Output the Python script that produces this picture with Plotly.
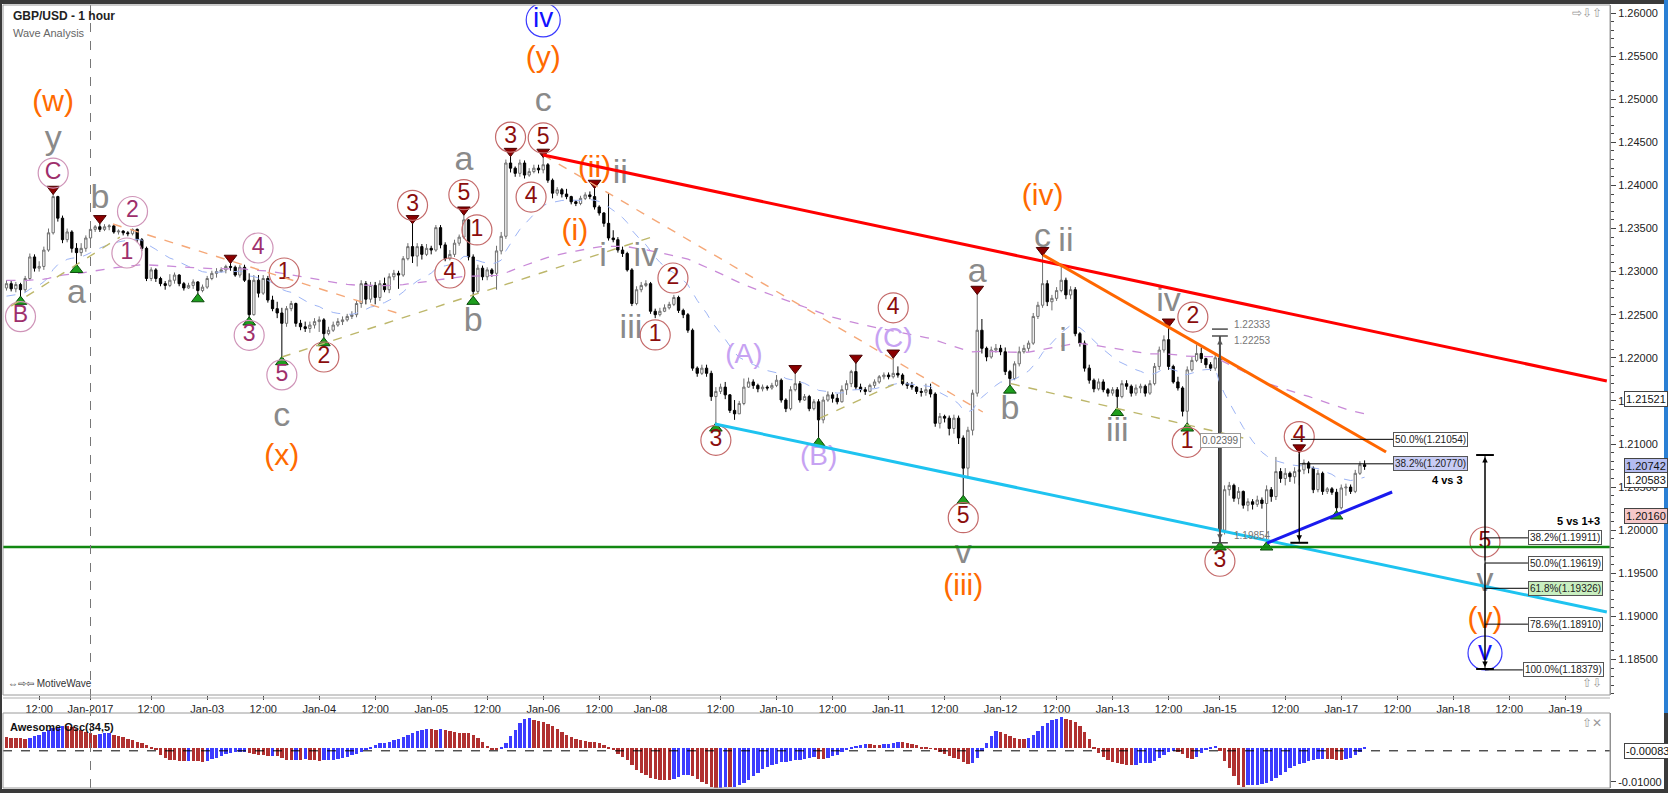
import plotly.graph_objects as go

# ---------------- DATA ----------------
FIRST_OPEN = 1.2281
CLOSE = [
 1.2286, 1.2280, 1.2285, 1.2279, 1.2292, 1.2317, 1.2304, 1.2306, 1.2325, 1.2345,
 1.2387, 1.2362, 1.2337, 1.2346, 1.2327, 1.2322, 1.2327, 1.2339, 1.2349, 1.2352,
 1.2349, 1.2352, 1.2353, 1.2346, 1.2347, 1.2345, 1.2344, 1.2349, 1.2337, 1.2327,
 1.2292, 1.2302, 1.2292, 1.2286, 1.2284, 1.2290, 1.2296, 1.2286, 1.2281, 1.2284,
 1.2288, 1.2278, 1.2282, 1.2292, 1.2298, 1.2300, 1.2302, 1.2306, 1.2305, 1.2296,
 1.2305, 1.2290, 1.2250, 1.2290, 1.2275, 1.2292, 1.2267, 1.2257, 1.2252, 1.2240,
 1.2257, 1.2263, 1.2240, 1.2236, 1.2234, 1.2238, 1.2242, 1.2244, 1.2228, 1.2232,
 1.2238, 1.2242, 1.2244, 1.2248, 1.2250, 1.2263, 1.2286, 1.2268, 1.2284, 1.2270,
 1.2286, 1.2279, 1.2294, 1.2298, 1.2296, 1.2315, 1.2329, 1.2318, 1.2329, 1.2320,
 1.2327, 1.2325, 1.2351, 1.2331, 1.2315, 1.2320, 1.2333, 1.2340, 1.2360, 1.2317,
 1.2277, 1.2304, 1.2294, 1.2302, 1.2298, 1.2324, 1.2341, 1.2426, 1.2420, 1.2414,
 1.2426, 1.2412, 1.2416, 1.2420, 1.2418, 1.2424, 1.2406, 1.2391, 1.2395, 1.2390,
 1.2387, 1.2381, 1.2379, 1.2385, 1.2389, 1.2387, 1.2375, 1.2368, 1.2356, 1.2339,
 1.2337, 1.2325, 1.2321, 1.2302, 1.2263, 1.2279, 1.2284, 1.2286, 1.2254, 1.2250,
 1.2254, 1.2258, 1.2262, 1.2270, 1.2255, 1.2250, 1.2232, 1.2188, 1.2182, 1.2188,
 1.2182, 1.2155, 1.2161, 1.2166, 1.2157, 1.2139, 1.2135, 1.2147, 1.2166, 1.2172,
 1.2168, 1.2164, 1.2166, 1.2165, 1.2168, 1.2174, 1.2151, 1.2141, 1.2163, 1.2170,
 1.2151, 1.2155, 1.2141, 1.2149, 1.2128, 1.2151, 1.2157, 1.2153, 1.2149, 1.2163,
 1.2170, 1.2184, 1.2166, 1.2163, 1.2161, 1.2168, 1.2172, 1.2178, 1.2180, 1.2178,
 1.2182, 1.2180, 1.2170, 1.2168, 1.2166, 1.2161, 1.2160, 1.2163, 1.2158, 1.2124,
 1.2132, 1.2130, 1.2118, 1.2130, 1.2107, 1.2072, 1.2116, 1.2159, 1.2232, 1.2211,
 1.2201, 1.2209, 1.2211, 1.2207, 1.2184, 1.2176, 1.2193, 1.2207, 1.2211, 1.2217,
 1.2248, 1.2261, 1.2286, 1.2265, 1.2269, 1.2278, 1.2290, 1.2273, 1.2279, 1.2228,
 1.2217, 1.2188, 1.2174, 1.2164, 1.2172, 1.2163, 1.2159, 1.2163, 1.2155, 1.2170,
 1.2167, 1.2159, 1.2165, 1.2167, 1.2159, 1.2170, 1.2190, 1.2209, 1.2221, 1.2190,
 1.2172, 1.2165, 1.2138, 1.2186, 1.2197, 1.2205, 1.2199, 1.2192, 1.2188, 1.2200,
 1.2000, 1.2047, 1.2052, 1.2037, 1.2045, 1.2029, 1.2033, 1.2030, 1.2035, 1.2031,
 1.2047, 1.2039, 1.2068, 1.2060, 1.2066, 1.2062, 1.2068, 1.2070, 1.2078, 1.2072,
 1.2047, 1.2066, 1.2045, 1.2048, 1.2044, 1.2026, 1.2049, 1.2050, 1.2045, 1.2066,
 1.2076, 1.2074]
HIGH = [
 1.2290, 1.2289, 1.2288, 1.2287, 1.2295, 1.2321, 1.2320, 1.2312, 1.2329, 1.2350,
 1.2390, 1.2388, 1.2365, 1.2350, 1.2348, 1.2333, 1.2333, 1.2342, 1.2352, 1.2354,
 1.2356, 1.2355, 1.2355, 1.2354, 1.2349, 1.2348, 1.2347, 1.2350, 1.2350, 1.2339,
 1.2329, 1.2305, 1.2304, 1.2294, 1.2289, 1.2297, 1.2299, 1.2297, 1.2288, 1.2287,
 1.2291, 1.2289, 1.2285, 1.2295, 1.2301, 1.2304, 1.2305, 1.2308, 1.2310, 1.2307,
 1.2308, 1.2308, 1.2298, 1.2296, 1.2296, 1.2296, 1.2295, 1.2272, 1.2265, 1.2258,
 1.2260, 1.2266, 1.2264, 1.2244, 1.2242, 1.2242, 1.2246, 1.2248, 1.2246, 1.2236,
 1.2242, 1.2246, 1.2248, 1.2251, 1.2254, 1.2266, 1.2290, 1.2289, 1.2288, 1.2288,
 1.2290, 1.2293, 1.2298, 1.2302, 1.2301, 1.2318, 1.2333, 1.2356, 1.2333, 1.2332,
 1.2332, 1.2330, 1.2354, 1.2354, 1.2334, 1.2325, 1.2337, 1.2343, 1.2366, 1.2361,
 1.2320, 1.2308, 1.2307, 1.2305, 1.2304, 1.2330, 1.2346, 1.2430, 1.2434, 1.2422,
 1.2430, 1.2429, 1.2420, 1.2424, 1.2424, 1.2433, 1.2426, 1.2408, 1.2398, 1.2397,
 1.2396, 1.2388, 1.2383, 1.2388, 1.2392, 1.2393, 1.2397, 1.2377, 1.2369, 1.2391,
 1.2348, 1.2340, 1.2329, 1.2323, 1.2304, 1.2283, 1.2288, 1.2290, 1.2288, 1.2257,
 1.2258, 1.2262, 1.2265, 1.2273, 1.2272, 1.2257, 1.2252, 1.2234, 1.2190, 1.2192,
 1.2192, 1.2185, 1.2166, 1.2170, 1.2172, 1.2158, 1.2151, 1.2150, 1.2176, 1.2177,
 1.2175, 1.2170, 1.2169, 1.2168, 1.2171, 1.2180, 1.2176, 1.2153, 1.2167, 1.2182,
 1.2173, 1.2158, 1.2157, 1.2152, 1.2152, 1.2155, 1.2161, 1.2160, 1.2158, 1.2168,
 1.2174, 1.2186, 1.2194, 1.2170, 1.2166, 1.2170, 1.2175, 1.2180, 1.2183, 1.2183,
 1.2200, 1.2190, 1.2182, 1.2172, 1.2172, 1.2167, 1.2165, 1.2170, 1.2170, 1.2160,
 1.2136, 1.2134, 1.2133, 1.2134, 1.2133, 1.2110, 1.2120, 1.2163, 1.2274, 1.2245,
 1.2213, 1.2213, 1.2216, 1.2215, 1.2212, 1.2186, 1.2196, 1.2213, 1.2215, 1.2220,
 1.2252, 1.2265, 1.2319, 1.2290, 1.2273, 1.2282, 1.2306, 1.2293, 1.2283, 1.2282,
 1.2230, 1.2220, 1.2192, 1.2176, 1.2176, 1.2175, 1.2165, 1.2166, 1.2166, 1.2174,
 1.2174, 1.2169, 1.2169, 1.2170, 1.2169, 1.2174, 1.2194, 1.2213, 1.2226, 1.2236,
 1.2192, 1.2178, 1.2167, 1.2190, 1.2201, 1.2215, 1.2212, 1.2200, 1.2195, 1.2205,
 1.2210, 1.2052, 1.2056, 1.2054, 1.2050, 1.2046, 1.2037, 1.2036, 1.2040, 1.2038,
 1.2052, 1.2050, 1.2085, 1.2072, 1.2072, 1.2068, 1.2073, 1.2090, 1.2082, 1.2080,
 1.2074, 1.2070, 1.2068, 1.2050, 1.2050, 1.2048, 1.2053, 1.2054, 1.2053, 1.2070,
 1.2080, 1.2081]
LOW = [
 1.2278, 1.2277, 1.2276, 1.2271, 1.2276, 1.2290, 1.2300, 1.2300, 1.2302, 1.2323,
 1.2343, 1.2358, 1.2333, 1.2334, 1.2322, 1.2308, 1.2318, 1.2323, 1.2337, 1.2346,
 1.2346, 1.2347, 1.2348, 1.2344, 1.2343, 1.2342, 1.2341, 1.2342, 1.2334, 1.2324,
 1.2289, 1.2289, 1.2288, 1.2283, 1.2279, 1.2282, 1.2286, 1.2283, 1.2278, 1.2280,
 1.2280, 1.2274, 1.2276, 1.2280, 1.2290, 1.2293, 1.2299, 1.2298, 1.2301, 1.2294,
 1.2293, 1.2288, 1.2247, 1.2249, 1.2270, 1.2273, 1.2264, 1.2254, 1.2246, 1.2201,
 1.2236, 1.2254, 1.2236, 1.2232, 1.2230, 1.2229, 1.2234, 1.2230, 1.2223, 1.2226,
 1.2230, 1.2236, 1.2238, 1.2242, 1.2245, 1.2247, 1.2258, 1.2262, 1.2264, 1.2262,
 1.2266, 1.2276, 1.2275, 1.2290, 1.2280, 1.2294, 1.2313, 1.2310, 1.2306, 1.2314,
 1.2318, 1.2320, 1.2323, 1.2327, 1.2312, 1.2313, 1.2317, 1.2330, 1.2338, 1.2313,
 1.2271, 1.2275, 1.2290, 1.2290, 1.2294, 1.2279, 1.2320, 1.2338, 1.2415, 1.2410,
 1.2410, 1.2408, 1.2410, 1.2414, 1.2414, 1.2414, 1.2403, 1.2385, 1.2388, 1.2386,
 1.2384, 1.2378, 1.2376, 1.2377, 1.2383, 1.2384, 1.2372, 1.2365, 1.2352, 1.2336,
 1.2334, 1.2322, 1.2317, 1.2300, 1.2260, 1.2261, 1.2276, 1.2282, 1.2251, 1.2246,
 1.2248, 1.2253, 1.2256, 1.2260, 1.2252, 1.2246, 1.2229, 1.2185, 1.2178, 1.2180,
 1.2178, 1.2150, 1.2124, 1.2158, 1.2152, 1.2136, 1.2128, 1.2135, 1.2145, 1.2165,
 1.2164, 1.2160, 1.2161, 1.2162, 1.2163, 1.2166, 1.2148, 1.2137, 1.2139, 1.2161,
 1.2148, 1.2150, 1.2138, 1.2139, 1.2107, 1.2124, 1.2149, 1.2148, 1.2146, 1.2148,
 1.2157, 1.2166, 1.2163, 1.2160, 1.2157, 1.2160, 1.2165, 1.2170, 1.2175, 1.2175,
 1.2176, 1.2177, 1.2168, 1.2164, 1.2163, 1.2158, 1.2155, 1.2156, 1.2154, 1.2120,
 1.2118, 1.2125, 1.2110, 1.2112, 1.2100, 1.2040, 1.2060, 1.2110, 1.2155, 1.2205,
 1.2196, 1.2199, 1.2206, 1.2203, 1.2180, 1.2168, 1.2174, 1.2190, 1.2205, 1.2207,
 1.2215, 1.2245, 1.2258, 1.2260, 1.2255, 1.2266, 1.2276, 1.2268, 1.2268, 1.2225,
 1.2213, 1.2184, 1.2170, 1.2160, 1.2162, 1.2160, 1.2155, 1.2156, 1.2142, 1.2153,
 1.2163, 1.2155, 1.2156, 1.2159, 1.2155, 1.2157, 1.2168, 1.2186, 1.2206, 1.2186,
 1.2170, 1.2162, 1.2132, 1.2124, 1.2184, 1.2195, 1.2194, 1.2188, 1.2185, 1.2185,
 1.1986, 1.1995, 1.2040, 1.2033, 1.2030, 1.2025, 1.2022, 1.2024, 1.2027, 1.2025,
 1.1986, 1.2033, 1.2035, 1.2055, 1.2052, 1.2056, 1.2054, 1.2052, 1.2065, 1.2066,
 1.2043, 1.2044, 1.2041, 1.2042, 1.2041, 1.2022, 1.2024, 1.2040, 1.2042, 1.2043,
 1.2064, 1.2070]
OPEN = [FIRST_OPEN] + CLOSE[:-1]
BAR = list(range(len(CLOSE)))

TICK_IDX = [7, 18, 31, 43, 55, 67, 79, 91, 103, 115, 127, 138, 153, 165, 177,
            189, 201, 213, 225, 237, 249, 260, 274, 286, 298, 310, 322, 334]
TICK_TEXT = ["12:00", "Jan-2017", "12:00", "Jan-03", "12:00", "Jan-04", "12:00",
             "Jan-05", "12:00", "Jan-06", "12:00", "Jan-08", "12:00", "Jan-10",
             "12:00", "Jan-11", "12:00", "Jan-12", "12:00", "Jan-13", "12:00",
             "Jan-15", "12:00", "Jan-17", "12:00", "Jan-18", "12:00", "Jan-19"]

# Awesome oscillator values before 34 bars of history exist
AO_EARLY = [0.0032, 0.0031, 0.0030, 0.0029, 0.0028, 0.0031, 0.0035, 0.0040, 0.0046,
            0.0052, 0.0058, 0.0063, 0.0066, 0.0066, 0.0062, 0.0057, 0.0052, 0.0047,
            0.0043, 0.0040, 0.0041, 0.0043, 0.0044, 0.0040, 0.0036, 0.0032, 0.0028,
            0.0024, 0.0019, 0.0014, 0.0008, 0.0002, -0.0006]
AO_LAST = -0.00083

BLUE_MA_SEED = 1.2270
PURPLE_MA_SEED = 1.2290

TAG_PRICES = [1.21521, 1.20742, 1.20583, 1.20160]

FIB_A_PCT = ["38.2%", "50.0%", "61.8%", "78.6%", "100.0%"]
FIB_A_PRICE = [1.19911, 1.19619, 1.19326, 1.18910, 1.18379]
FIB_A_RANGE = [1.20872, 1.18390]
FIB_B_PCT = ["50.0%", "38.2%"]
FIB_B_PRICE = [1.21054, 1.20770]
WAVE3_RANGE = [1.22253, 1.19854]
WAVE3_TOP2 = 1.22333

# trend lines: (bar index, price) end points
TL_RED = [(115.0, 1.24353), (342.9, 1.21731)]
TL_ORANGE = [(222.1, 1.23193), (295.6, 1.20907)]
TL_CYAN = [(151.8, 1.21232), (342.9, 1.19051)]
TL_BLUE = [(270.1, 1.19851), (296.9, 1.20443)]
H_GREEN = 1.19805
TL_OLIVE = [[(1.0, 1.2260), (24.3, 1.2340)],
            [(59.0, 1.22009), (138.3, 1.23401)],
            [(174.3, 1.2130), (192.1, 1.2174)],
            [(215.2, 1.2170), (265.0, 1.2107)]]
TL_PEACH = [[(22.8, 1.23552), (83.7, 1.22520)],
            [(115.0, 1.24353), (209.2, 1.21371)]]

TRI_HIGH = [10, 20, 48, 87, 98, 108, 115, 126, 169, 182, 190, 208, 222, 249, 277]
TRI_LOW = [3, 15, 41, 52, 59, 68, 100, 152, 174, 205, 215, 238, 253, 260, 270, 285]

# wave labels attached to a bar's high (H) or low (L): (text, style, pixel distance)
PIVOT_LABELS = [
    (3, "L", [("B", "pc", 20)]),
    (10, "H", [("C", "pc", 21), ("y", "g", 54), ("(w)", "o", 91)]),
    (15, "L", [("a", "g", 30)]),
    (20, "H", [("b", "g", 24)]),
    (27, "H", [("2", "pc", 17)]),
    (52, "L", [("3", "pc", 18)]),
    (59, "L", [("5", "pc", 18), ("c", "g", 61), ("(x)", "o", 101)]),
    (68, "L", [("2", "rc", 19)]),
    (87, "H", [("3", "rc", 18)]),
    (98, "H", [("5", "rc", 20), ("a", "g", 53)]),
    (100, "L", [("b", "g", 26)]),
    (108, "H", [("3", "rc", 19)]),
    (115, "H", [("5", "rc", 19), ("c", "g", 54), ("(y)", "o", 97), ("iv", "bc", 137)]),
    (126, "H", [("(ii)", "o", 18)]),
    (152, "L", [("3", "rc", 17)]),
    (174, "L", [("(B)", "lv", 20)]),
    (190, "H", [("(C)", "lv", 18), ("4", "rc", 50)]),
    (205, "L", [("5", "rc", 22), ("v", "g", 59), ("(iii)", "o", 92)]),
    (208, "H", [("a", "g", 21)]),
    (215, "L", [("b", "g", 25)]),
    (222, "H", [("c", "g", 17), ("(iv)", "o", 58)]),
    (238, "L", [("iii", "g", 25)]),
    (249, "H", [("iv", "g", 24)]),
    (253, "L", [("1", "rc", 19)]),
    (260, "L", [("3", "rc", 19)]),
    (277, "H", [("4", "rc", 16)]),
]
# other wave labels: (bar index, price, text, style)
FREE_LABELS = [
    (25.8, 1.23216, "1", "pc"), (53.9, 1.23274, "4", "pc"),
    (59.5, 1.22984, "1", "rc"), (95.0, 1.22984, "4", "rc"),
    (100.8, 1.23483, "1", "rc"), (112.4, 1.23865, "4", "rc"),
    (121.8, 1.23459, "(i)", "o"), (131.5, 1.24121, "ii", "g"),
    (127.8, 1.23158, "i", "g"), (137.0, 1.23169, "iv", "g"),
    (142.8, 1.22926, "2", "rc"), (133.8, 1.22323, "iii", "g"),
    (139.0, 1.22265, "1", "rc"), (158.0, 1.22021, "(A)", "lv"),
    (227.0, 1.23332, "ii", "g"), (226.4, 1.22172, "i", "g"),
    (254.2, 1.22473, "2", "rc"),
    (316.8, 1.19863, "5", "rc"), (316.8, 1.19399, "v", "g"),
    (316.8, 1.18958, "(v)", "o"), (316.8, 1.18575, "v", "bc"),
]

# ---------------- geometry / styles ----------------
W, H = 1668, 793
PL, PR, PT, PB = 3, 1610, 5, 695        # main plot area (px)
OT, OB = 713, 788                        # oscillator panel (px)
BAR_PX, BAR0_PX = 4.667, 6.5
XR = [(PL - BAR0_PX) / BAR_PX, (PR - BAR0_PX) / BAR_PX]
YR = [1.18088, 1.26093]
AOR = [-0.01183, 0.01036]
PPX = (YR[1] - YR[0]) / (PB - PT)
FONT = "Liberation Sans, Arial, sans-serif"

STY = {
    "g": dict(color="#8a8a8a", size=34),
    "o": dict(color="#ff6a00", size=30),
    "lv": dict(color="#c6a2f2", size=28),
    "pc": dict(color="#9e2f6c", size=23, ring="#cf94b8", rsize=30),
    "rc": dict(color="#8b0d0d", size=23, ring="#c46a6a", rsize=30),
    "bc": dict(color="#1212ff", size=28, ring="#3a3aff", rsize=34),
}


def px_x(px):
    return px / W


def px_y(py):
    return 1 - py / H


def ema(vals, n, seed):
    a = 2.0 / (n + 1)
    out, e = [], seed
    for v in vals:
        e = e + a * (v - e)
        out.append(e)
    return out


fig = go.Figure()

# candles
fig.add_trace(go.Candlestick(
    x=BAR, open=OPEN, high=HIGH, low=LOW, close=CLOSE,
    increasing=dict(line=dict(color="#6e6e6e", width=1), fillcolor="#ffffff"),
    decreasing=dict(line=dict(color="#000000", width=1), fillcolor="#000000"),
    whiskerwidth=0, xaxis="x", yaxis="y", hoverinfo="skip"))

# moving averages
fig.add_trace(go.Scatter(x=BAR, y=ema(CLOSE, 20, BLUE_MA_SEED), mode="lines",
                         line=dict(color="#9db4f5", width=1, dash="dash"), hoverinfo="skip"))
fig.add_trace(go.Scatter(x=BAR, y=ema(CLOSE, 110, PURPLE_MA_SEED), mode="lines",
                         line=dict(color="#c98ad8", width=1.3, dash="dash"), hoverinfo="skip"))

# pivot triangles
fig.add_trace(go.Scatter(x=TRI_HIGH, y=[HIGH[i] + 5 * PPX for i in TRI_HIGH], mode="markers",
                         marker=dict(symbol="triangle-down", size=11, color="#8b0000",
                                     line=dict(color="#4a0000", width=1)), hoverinfo="skip"))
fig.add_trace(go.Scatter(x=TRI_LOW, y=[LOW[i] - 5 * PPX for i in TRI_LOW], mode="markers",
                         marker=dict(symbol="triangle-up", size=11, color="#1e9e1e",
                                     line=dict(color="#0a4a0a", width=1)), hoverinfo="skip"))

# collect label positions
labels = []
for b, side, items in PIVOT_LABELS:
    base = HIGH[b] if side == "H" else LOW[b]
    sgn = 1 if side == "H" else -1
    for txt, st, off in items:
        labels.append((b, base + sgn * off * PPX, txt, st))
labels += FREE_LABELS

for st, s in STY.items():
    pts = [l for l in labels if l[3] == st]
    if not pts:
        continue
    xs = [p[0] for p in pts]
    ys = [p[1] for p in pts]
    if "ring" in s:
        fig.add_trace(go.Scatter(x=xs, y=ys, mode="markers",
                                 marker=dict(symbol="circle-open", size=s["rsize"], color=s["ring"],
                                             line=dict(width=1.2)), hoverinfo="skip"))
    fig.add_trace(go.Scatter(x=xs, y=ys, mode="text", text=[p[2] for p in pts],
                             textposition="middle center",
                             textfont=dict(family=FONT, size=s["size"], color=s["color"]),
                             hoverinfo="skip"))

# awesome oscillator
med = [(h + l) / 2 for h, l in zip(HIGH, LOW)]
ao = []
for i in range(len(med)):
    if i < len(AO_EARLY):
        ao.append(AO_EARLY[i])
    else:
        ao.append(sum(med[i - 4:i + 1]) / 5 - sum(med[i - 33:i + 1]) / 34)
ao_col = ["#b03030"] + ["#3c3cff" if ao[i] > ao[i - 1] else "#b03030" for i in range(1, len(ao))]
fig.add_trace(go.Bar(x=BAR, y=ao, marker=dict(color=ao_col, line=dict(width=0)), width=0.72,
                     xaxis="x2", yaxis="y2", hoverinfo="skip"))

# ---------------- shapes ----------------
shapes = []


def seg(p0, p1, color, width, dash="solid"):
    shapes.append(dict(type="line", xref="x", yref="y", x0=p0[0], y0=p0[1], x1=p1[0], y1=p1[1],
                       line=dict(color=color, width=width, dash=dash)))


for ln in TL_OLIVE:
    seg(ln[0], ln[1], "#bdb76b", 1.4, "dash")
for ln in TL_PEACH:
    seg(ln[0], ln[1], "#f5a878", 1.4, "dash")
seg(TL_RED[0], TL_RED[1], "#ff0000", 3)
seg(TL_ORANGE[0], TL_ORANGE[1], "#ff6600", 3)
seg(TL_CYAN[0], TL_CYAN[1], "#1ec3f0", 3)
seg((XR[0], H_GREEN), (XR[1], H_GREEN), "#118811", 2.5)
seg(TL_BLUE[0], TL_BLUE[1], "#1a1aee", 3)

# wave-3 measurement at bar 260
m3x = TRI_LOW[13]
seg((m3x, WAVE3_RANGE[0]), (m3x, WAVE3_RANGE[1]), "#4d4d4d", 2)
for p in [WAVE3_TOP2, WAVE3_RANGE[0], WAVE3_RANGE[1]]:
    seg((m3x - 1.7, p), (m3x + 1.7, p), "#4d4d4d", 1.5)

# 4 vs 3 retracement
m4x = TRI_HIGH[14]
seg((m4x, HIGH[m4x]), (m4x, WAVE3_RANGE[1]), "#000000", 1)
seg((m4x - 1.9, WAVE3_RANGE[1]), (m4x + 1.9, WAVE3_RANGE[1]), "#000000", 2)
FB_LX = 297.1
seg((m4x - 1.8, FIB_B_PRICE[0]), (FB_LX, FIB_B_PRICE[0]), "#000000", 1)
seg((m4x, FIB_B_PRICE[1]), (FB_LX, FIB_B_PRICE[1]), "#000000", 1)

# 5 vs 1+3 projection
FAX, FA_LX = 316.8, 326.0
seg((FAX, FIB_A_RANGE[0]), (FAX, FIB_A_RANGE[1]), "#000000", 1)
for p in FIB_A_RANGE:
    seg((FAX - 1.9, p), (FAX + 1.9, p), "#000000", 2)
for pct, p in zip(FIB_A_PCT, FIB_A_PRICE):
    seg((FAX, p), (FA_LX - (1.1 if pct == "100.0%" else 0), p), "#000000", 1)

# year separator
shapes.append(dict(type="line", xref="x", yref="paper", x0=TICK_IDX[1], x1=TICK_IDX[1],
                   y0=px_y(OB), y1=px_y(PT), line=dict(color="#777777", width=1, dash="dash")))
# oscillator last value line
shapes.append(dict(type="line", xref="paper", yref="y2", x0=px_x(PL), x1=px_x(PR),
                   y0=AO_LAST, y1=AO_LAST, line=dict(color="#000000", width=1, dash="dash")))

# frame
for (x0, y0, x1, y1, col) in [(0, 0, W, 4, "#3a3a3a"), (0, OB + 1, W, H, "#3a3a3a"),
                              (0, 0, 2, H, "#3a3a3a"), (W - 4, 0, W, OT, "#2a7fd4"),
                              (W - 4, OT, W, H, "#3a3a3a")]:
    shapes.append(dict(type="rect", xref="paper", yref="paper", x0=px_x(x0), x1=px_x(x1),
                       y0=px_y(y1), y1=px_y(y0), fillcolor=col, line=dict(width=0)))
for (y0, y1) in [(PT, PB), (OT, OB)]:
    shapes.append(dict(type="rect", xref="paper", yref="paper", x0=px_x(PL), x1=px_x(PR),
                       y0=px_y(y1), y1=px_y(y0), line=dict(color="#9a9a9a", width=1)))
shapes.append(dict(type="line", xref="paper", yref="paper", x0=px_x(PL), x1=px_x(PR),
                   y0=px_y(PB + 3), y1=px_y(PB + 3), line=dict(color="#b0b0b0", width=1)))

# ---------------- annotations ----------------
ann = []


def arrow(x, y, ax, ay, color="#000000"):
    ann.append(dict(x=x, y=y, ax=ax, ay=ay, xref="x", yref="y", axref="x", ayref="y",
                    text="", showarrow=True, arrowhead=2, arrowsize=1.1, arrowwidth=1,
                    arrowcolor=color))


mid = (FIB_A_RANGE[0] + FIB_A_RANGE[1]) / 2
arrow(FAX, FIB_A_RANGE[0] - 2 * PPX, FAX, mid)
arrow(FAX, FIB_A_RANGE[1] + 2 * PPX, FAX, mid)
arrow(m4x, WAVE3_RANGE[1] + 2 * PPX, m4x, HIGH[m4x])
m3mid = (WAVE3_RANGE[0] + WAVE3_RANGE[1]) / 2
arrow(m3x, WAVE3_RANGE[0] - 3 * PPX, m3x, m3mid, "#555555")
arrow(m3x, WAVE3_RANGE[1] + 3 * PPX, m3x, m3mid, "#555555")


def note(x, y, text, size=10, color="#222222", xanchor="left", bold=False, **kw):
    d = dict(x=x, y=y, xref="x", yref="y", text=("<b>%s</b>" % text) if bold else text,
             showarrow=False, xanchor=xanchor, yanchor="middle",
             font=dict(family=FONT, size=size, color=color))
    d.update(kw)
    ann.append(d)


box = dict(bgcolor="#ffffff", bordercolor="#555555", borderwidth=1, borderpad=1)
for pct, p in zip(FIB_A_PCT, FIB_A_PRICE):
    b = dict(box)
    if pct == "61.8%":
        b["bgcolor"] = "#c9efc0"
    note(FA_LX - (1.1 if pct == "100.0%" else 0), p, "%s(%.5f)" % (pct, p), **b)
for pct, p in zip(FIB_B_PCT, FIB_B_PRICE):
    b = dict(box)
    if pct == "38.2%":
        b["bgcolor"] = "#c8ccf5"
    note(FB_LX, p, "%s(%.5f)" % (pct, p), **b)
note(312.5, 1.20582, "4 vs 3", size=11, color="#000000", xanchor="right", bold=True)
note(341.9, 1.20107, "5 vs 1+3", size=11, color="#000000", xanchor="right", bold=True)
note(m3x + 2.5, WAVE3_TOP2, "%.5f" % WAVE3_TOP2, size=10, color="#777777", yshift=5)
note(m3x + 2.5, WAVE3_RANGE[0], "%.5f" % WAVE3_RANGE[0], size=10, color="#777777", yshift=-5)
note(m3x + 2.5, WAVE3_RANGE[1] + 7 * PPX, "%.5f" % WAVE3_RANGE[1], size=10, color="#777777")
note(m3x + 0.2, 1.21046, "%.5f" % (WAVE3_RANGE[0] - WAVE3_RANGE[1]), size=10, color="#666666",
     xanchor="center", bgcolor="#ffffff", bordercolor="#9a9a9a", borderwidth=1, borderpad=1)

# right-side price tags
tag_bg = ["#ffffff", "#b4bcf0", "#ffffff", "#f5c8c8"]
for p, bg in zip(TAG_PRICES, tag_bg):
    ann.append(dict(x=px_x(PR + 14), y=p, xref="paper", yref="y", text="%.5f" % p,
                    showarrow=False, xanchor="left", yanchor="middle",
                    font=dict(family=FONT, size=11, color="#111111"),
                    bgcolor=bg, bordercolor="#444444", borderwidth=1, borderpad=1))
ann.append(dict(x=px_x(PR + 14), y=AO_LAST, xref="paper", yref="y2", text="%.5f" % AO_LAST,
                showarrow=False, xanchor="left", yanchor="middle",
                font=dict(family=FONT, size=11, color="#111111"),
                bgcolor="#ffffff", bordercolor="#444444", borderwidth=1, borderpad=1))


def ptext(px, py, text, size=11, color="#222222", bold=False, xanchor="left"):
    ann.append(dict(x=px_x(px), y=px_y(py), xref="paper", yref="paper",
                    text=("<b>%s</b>" % text) if bold else text, showarrow=False,
                    xanchor=xanchor, yanchor="middle",
                    font=dict(family=FONT, size=size, color=color)))


ptext(11, 16, "GBP/USD - 1 hour", size=12, color="#222222", bold=True)
ptext(11, 33, "Wave Analysis", size=11, color="#666666")
ptext(8, 727, "Awesome Osc(34,5)", size=11, color="#111111", bold=True)
ptext(6, 683, "⇔⇨⇦ MotiveWave", size=10, color="#333333")
ptext(1604, 13, "⇨⇩⇧", size=12, color="#999999", xanchor="right")
ptext(1604, 683, "⇧⇩", size=12, color="#999999", xanchor="right")
ptext(1604, 723, "⇧✕", size=12, color="#999999", xanchor="right")

# ---------------- layout ----------------
dom_x = [px_x(PL), px_x(PR)]
fig.update_layout(
    width=W, height=H, margin=dict(l=0, r=0, t=0, b=0),
    paper_bgcolor="#ffffff", plot_bgcolor="#ffffff",
    showlegend=False, hovermode=False, bargap=0,
    font=dict(family=FONT),
    xaxis=dict(domain=dom_x, range=XR, anchor="y", tickmode="array",
               tickvals=TICK_IDX, ticktext=TICK_TEXT, ticks="outside", ticklen=4,
               tickcolor="#444444", tickfont=dict(family=FONT, size=11, color="#222222"),
               showgrid=False, zeroline=False, showline=False,
               rangeslider=dict(visible=False)),
    yaxis=dict(domain=[px_y(PB), px_y(PT)], range=YR, anchor="x", side="right",
               tick0=1.26, dtick=0.005, tickformat=".5f", ticks="outside", ticklen=5,
               tickcolor="#444444", tickfont=dict(family=FONT, size=11, color="#222222"),
               minor=dict(dtick=0.001, ticklen=3, ticks="outside", tickcolor="#444444",
                          showgrid=False),
               showgrid=False, zeroline=False, showline=True, linecolor="#888888"),
    xaxis2=dict(domain=dom_x, range=XR, anchor="y2", matches="x", showticklabels=False,
                ticks="", showgrid=False, zeroline=False),
    yaxis2=dict(domain=[px_y(OB), px_y(OT)], range=AOR, anchor="x2", side="right",
                tickmode="array", tickvals=[-0.01], ticktext=["-0.01000"], ticks="outside",
                ticklen=5, tickcolor="#444444",
                tickfont=dict(family=FONT, size=11, color="#222222"),
                showgrid=False, zeroline=False, showline=True, linecolor="#888888"),
    shapes=shapes, annotations=ann,
)

fig.write_html("out.html", config={"displayModeBar": False},
               post_script="document.body.style.margin='0';")
